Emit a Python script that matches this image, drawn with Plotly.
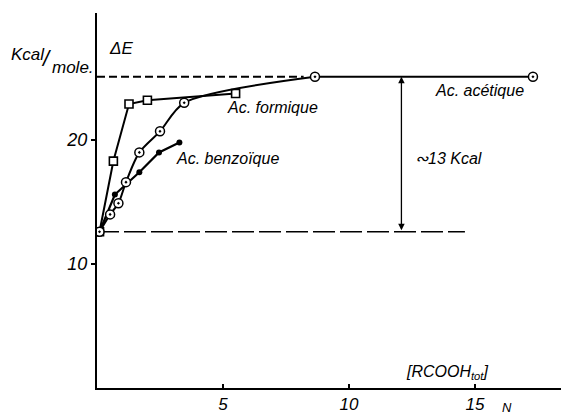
import plotly.graph_objects as go

# ---- data ----
acetic_x = [0.1, 0.52, 0.85, 1.15, 1.68, 2.5, 3.46, 8.65]
acetic_y = [12.6, 14.0, 14.9, 16.6, 19.0, 20.7, 23.0, 25.1]
acetic_tail_x = [8.65, 17.3]
acetic_tail_y = [25.1, 25.1]

formic_x = [0.1, 0.65, 1.27, 2.0, 5.5]
formic_y = [12.6, 18.3, 22.9, 23.2, 23.75]

benzoic_x = [0.1, 0.71, 1.68, 2.46, 3.27]
benzoic_y = [12.6, 15.6, 17.4, 19.0, 19.8]

plateau_x = [0.0, 8.2]
plateau_y = [25.1, 25.1]
base_x = [0.0, 14.6]
base_y = [12.6, 12.6]
delta_x = 12.08

x_ticks = [5, 10, 15]
y_ticks = [10, 20]

FONT = "Liberation Sans"
W, H = 561, 414
L, R, T, B = 97, 0, 13, 26
PW, PH = W - L - R, H - T - B
XPX, YPX = 25.2, 12.4  # pixels per unit

fig = go.Figure()

# dashed reference lines
fig.add_trace(go.Scatter(x=plateau_x, y=plateau_y, mode="lines",
                         line=dict(color="black", width=2, dash="8px,4px"),
                         hoverinfo="skip"))
fig.add_trace(go.Scatter(x=base_x, y=base_y, mode="lines",
                         line=dict(color="black", width=1.3, dash="22px,5px"),
                         hoverinfo="skip"))

# formic acid
fig.add_trace(go.Scatter(x=formic_x, y=formic_y, mode="lines+markers",
                         line=dict(color="black", width=2),
                         marker=dict(symbol="square", size=8, color="white",
                                     line=dict(width=1.6, color="black")),
                         name="Ac. formique"))
# benzoic acid
fig.add_trace(go.Scatter(x=benzoic_x, y=benzoic_y, mode="lines+markers",
                         line=dict(color="black", width=2.2),
                         marker=dict(symbol="circle", size=6, color="black"),
                         name="Ac. benzoïque"))
# acetic acid
acetic_marker = dict(symbol="circle-dot", size=9, color="white",
                     line=dict(width=1.5, color="black"))
fig.add_trace(go.Scatter(x=acetic_x, y=acetic_y, mode="lines",
                         line=dict(color="black", width=2, shape="spline", smoothing=0.8),
                         name="Ac. acétique"))
fig.add_trace(go.Scatter(x=acetic_tail_x, y=acetic_tail_y, mode="lines",
                         line=dict(color="black", width=1.8),
                         hoverinfo="skip"))
fig.add_trace(go.Scatter(x=acetic_x + acetic_tail_x[1:], y=acetic_y + acetic_tail_y[1:],
                         mode="markers", marker=acetic_marker, hoverinfo="skip"))

# double arrow (~13 kcal)
fig.add_annotation(x=delta_x, y=plateau_y[0], ax=delta_x, ay=base_y[0],
                   xref="x", yref="y", axref="x", ayref="y", text="",
                   showarrow=True, arrowhead=2, arrowside="end+start",
                   arrowsize=1, arrowwidth=1.3, arrowcolor="black")

def px_ann(text, px, py, size=16, xanchor="center", yanchor="middle"):
    fig.add_annotation(x=(px - L) / PW, y=(H - B - py) / PH, xref="paper", yref="paper",
                       text=text, showarrow=False, xanchor=xanchor, yanchor=yanchor,
                       font=dict(family=FONT, size=size, color="black", style="italic"))

px_ann("Ac. formique", 272, 108)
px_ann("Ac. benzoïque", 227, 158)
px_ann("Ac. acétique", 479, 91)
px_ann("∾13 Kcal", 448, 158)
px_ann("ΔE", 107, 48, size=17, xanchor="left")
px_ann("Kcal", 9, 55, size=17, xanchor="left")
px_ann("/", 46, 58, size=22)
px_ann("mole.", 50, 68, size=17, xanchor="left")
px_ann("[RCOOH<sub>tot</sub>]", 447, 372)
px_ann("N", 507, 407, size=13)

fig.update_layout(
    width=W, height=H,
    margin=dict(l=L, r=R, t=T, b=B, pad=0),
    paper_bgcolor="white", plot_bgcolor="white",
    showlegend=False,
    font=dict(family=FONT, color="black"),
)
fig.update_xaxes(range=[0, PW / XPX], showgrid=False, zeroline=False,
                 showline=True, linecolor="black", linewidth=2,
                 tickvals=x_ticks, ticktext=[str(v) for v in x_ticks],
                 ticks="inside", ticklen=4, tickwidth=1.5, tickcolor="black",
                 tickfont=dict(family=FONT, size=17, style="italic", color="black"),
                 fixedrange=True)
fig.update_yaxes(range=[0, PH / YPX], showgrid=False, zeroline=False,
                 showline=True, linecolor="black", linewidth=2,
                 tickvals=y_ticks, ticktext=[str(v) for v in y_ticks],
                 ticks="outside", ticklen=4, tickwidth=1.5, tickcolor="black",
                 tickfont=dict(family=FONT, size=18, style="italic", color="black"),
                 fixedrange=True)

fig.write_html("out.html")
